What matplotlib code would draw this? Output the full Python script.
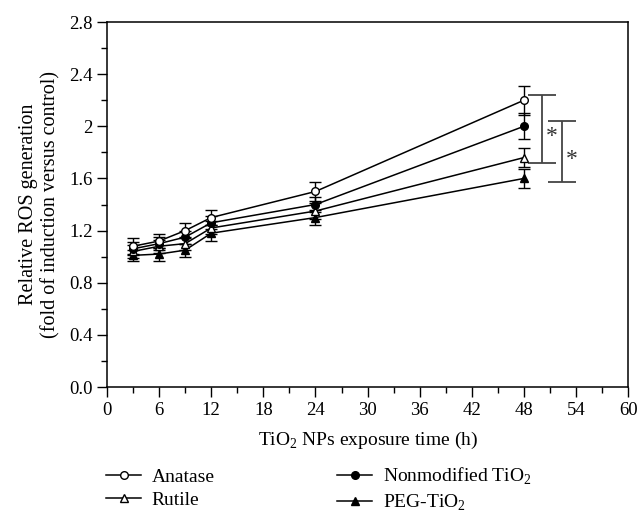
import numpy as np
import matplotlib
matplotlib.use("Agg")
import matplotlib.pyplot as plt
from matplotlib.lines import Line2D
from matplotlib.ticker import MultipleLocator, FixedFormatter, FixedLocator

plt.rcParams['font.family'] = ['Liberation Serif', 'DejaVu Serif']
plt.rcParams['mathtext.fontset'] = 'custom'
plt.rcParams['mathtext.rm'] = 'Liberation Serif'

# exposure time (h)
hours = [3, 6, 9, 12, 24, 48]

# relative ROS generation
anatase = [1.08, 1.12, 1.20, 1.30, 1.50, 2.20]
anatase_err = [0.06, 0.05, 0.06, 0.06, 0.07, 0.11]
nonmod = [1.06, 1.10, 1.15, 1.26, 1.40, 2.00]
nonmod_err = [0.05, 0.05, 0.05, 0.05, 0.06, 0.10]
rutile = [1.04, 1.08, 1.10, 1.22, 1.35, 1.76]
rutile_err = [0.05, 0.05, 0.05, 0.05, 0.06, 0.07]
peg = [1.01, 1.02, 1.05, 1.18, 1.30, 1.60]
peg_err = [0.04, 0.05, 0.05, 0.06, 0.06, 0.07]

# significance brackets: x, low, high
brackets = [(50.1, 1.72, 2.24), (52.4, 1.57, 2.04)]

fig = plt.figure(figsize=(6.39, 5.19), dpi=100)
ax = fig.add_axes([0.1675, 0.2543, 0.8155, 0.7033])

kw = dict(color='black', lw=1.1, capsize=4.5, elinewidth=1.0, capthick=1.0, ms=5.5)
ax.errorbar(hours, peg, yerr=peg_err, marker='^', mfc='black', mec='black', **kw)
ax.errorbar(hours, rutile, yerr=rutile_err, marker='^', mfc='white', mec='black', **kw)
ax.errorbar(hours, nonmod, yerr=nonmod_err, marker='o', mfc='black', mec='black', **kw)
ax.errorbar(hours, anatase, yerr=anatase_err, marker='o', mfc='white', mec='black', **kw)

for bx, lo, hi in brackets:
    ax.errorbar([bx], [(lo + hi) / 2], yerr=[[(hi - lo) / 2], [(hi - lo) / 2]],
                fmt='none', ecolor='#444444', elinewidth=1.3, capsize=10, capthick=1.3)
    ax.text(bx + 0.45, (lo + hi) / 2 - 0.06, '*', fontsize=17, color='#333333',
            ha='left', va='center')

ax.set_xlim(0, 60)
ax.set_ylim(0, 2.8)
ax.xaxis.set_major_locator(MultipleLocator(6))
ax.xaxis.set_minor_locator(MultipleLocator(3))
yt = [0, 0.4, 0.8, 1.2, 1.6, 2.0, 2.4, 2.8]
ax.yaxis.set_major_locator(FixedLocator(yt))
ax.yaxis.set_major_formatter(FixedFormatter(['0.0', '0.4', '0.8', '1.2', '1.6', '2', '2.4', '2.8']))
ax.yaxis.set_minor_locator(MultipleLocator(0.2))
ax.tick_params(which='major', direction='out', length=7, width=1, labelsize=13.5)
ax.tick_params(which='minor', direction='out', length=4, width=1)
for s in ax.spines.values():
    s.set_linewidth(1.1)

ax.set_xlabel('TiO$_2$ NPs exposure time (h)', fontsize=14, labelpad=8)
ax.set_ylabel('Relative ROS generation\n(fold of induction versus control)', fontsize=14.5, labelpad=6)

handles = [
    Line2D([], [], color='black', lw=1.1, marker='o', mfc='white', mec='black', ms=5.5),
    Line2D([], [], color='black', lw=1.1, marker='^', mfc='white', mec='black', ms=5.5),
    Line2D([], [], color='black', lw=1.1, marker='o', mfc='black', mec='black', ms=5.5),
    Line2D([], [], color='black', lw=1.1, marker='^', mfc='black', mec='black', ms=5.5),
]
labels = ['Anatase', 'Rutile', 'Nonmodified TiO$_2$', 'PEG-TiO$_2$']
fig.legend(handles, labels, ncol=2, loc='lower left', bbox_to_anchor=(0.16, 0.004),
           frameon=False, fontsize=14, handlelength=1.8, columnspacing=6.3,
           labelspacing=0.28, handletextpad=0.55, borderpad=0.2, borderaxespad=0)

fig.savefig('out.png', dpi=100)
